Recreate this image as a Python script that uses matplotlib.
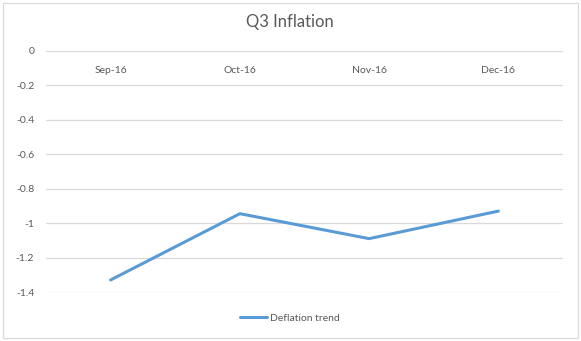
import matplotlib
matplotlib.use("Agg")
import matplotlib.pyplot as plt
from matplotlib.patches import Rectangle

categories = ["Sep-16", "Oct-16", "Nov-16", "Dec-16"]
values = [-1.33, -0.945, -1.09, -0.93]
yticks = [0, -0.2, -0.4, -0.6, -0.8, -1, -1.2, -1.4]
ytick_labels = ["0", "-0.2", "-0.4", "-0.6", "-0.8", "-1", "-1.2", "-1.4"]

plt.rcParams['font.family'] = ['Lato', 'DejaVu Sans']
W, H = 581, 341
fig = plt.figure(figsize=(W / 100, H / 100), dpi=100)
fig.patches.append(Rectangle((3 / W, 3 / H), 575 / W, 335 / H, transform=fig.transFigure,
                             fill=False, edgecolor="#d9d9d9", linewidth=0.9))

ax = fig.add_axes([46 / W, 1 - 292 / H, 517 / W, 241 / H])
x = list(range(len(categories)))
ax.plot(x, values, color="#5b9bd5", linewidth=2.2, solid_capstyle="round", label="Deflation trend")
ax.set_xlim(-0.5, len(categories) - 0.5)
ax.set_ylim(-1.4, 0)
ax.set_yticks(yticks)
ax.set_yticklabels(ytick_labels)
ax.grid(axis="y", color="#d9d9d9", linewidth=0.9)
ax.set_axisbelow(True)
for s in ax.spines.values():
    s.set_visible(False)
ax.set_xticks(x)
ax.set_xticklabels(categories)
ax.tick_params(axis="x", top=False, bottom=False, labeltop=True, labelbottom=False,
               pad=-20.5, labelsize=7.5, labelcolor="#595959")
ax.tick_params(axis="y", left=False, pad=5, labelsize=7.5, labelcolor="#595959")

fig.text(290 / W, 1 - 22 / H, "Q3 Inflation", ha="center", va="center", fontsize=12, color="#595959")
fig.legend(loc="center", bbox_to_anchor=(290 / W, 1 - 318 / H), frameon=False,
           fontsize=7.5, labelcolor="#595959", handlelength=2.6, handletextpad=0.3)

fig.savefig("out.png", dpi=100)
